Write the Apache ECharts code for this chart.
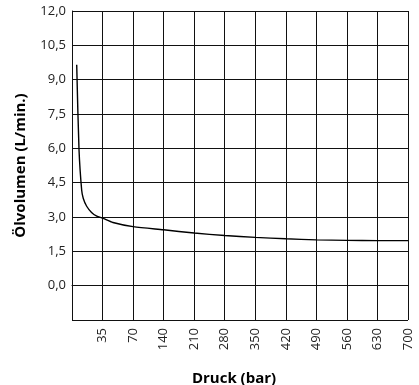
<!DOCTYPE html>
<html>
<head>
<meta charset="utf-8">
<script src="https://cdn.jsdelivr.net/npm/echarts@6/dist/echarts.min.js"></script>
<style>
  html, body { margin: 0; padding: 0; background: #fff; }
  #chart { width: 419px; height: 385px; }
</style>
</head>
<body>
<div id="chart"></div>
<script>
// Pressure tick labels (bar), one per grid column boundary
const pressureTicks = ['', '35', '70', '140', '210', '280', '350', '420', '490', '560', '630', '700'];
// Flow rate tick labels are formatted with a decimal comma
const flowTicks = [-1.5, 0, 1.5, 3, 4.5, 6, 7.5, 9, 10.5, 12];

// Curve points: position along the pressure axis (column index) and oil flow (L/min)
const curvePos = [0.154, 0.23, 0.317, 0.37, 0.48, 0.64, 0.81, 1.0, 1.34, 2, 3, 4, 5, 6, 7, 8, 9, 10, 11];
const curveFlow = [9.65, 5.93, 4.17, 3.81, 3.47, 3.20, 3.04, 2.95, 2.76, 2.58, 2.44, 2.30, 2.19, 2.11, 2.05, 2.00, 1.98, 1.97, 1.97];

const chart = echarts.init(document.getElementById('chart'));
const font = 'Open Sans';

chart.setOption({
  animation: false,
  grid: { left: 72, right: 11, top: 11, bottom: 65, outerBoundsMode: 'none', containLabel: false },
  xAxis: {
    type: 'value',
    min: 0,
    max: pressureTicks.length - 1,
    interval: 1,
    name: 'Druck (bar)',
    nameLocation: 'middle',
    nameGap: 51,
    nameTextStyle: { fontFamily: font, fontWeight: 'bold', fontSize: 15, color: '#000', padding: [0, 12, 0, 0] },
    axisLine: { show: true, lineStyle: { color: '#111', width: 1 } },
    axisTick: { show: false },
    axisLabel: {
      rotate: 90,
      margin: 8,
      fontFamily: font,
      fontSize: 13,
      color: '#222',
      formatter: v => pressureTicks[Math.round(v)] || ''
    },
    splitLine: { show: true, lineStyle: { color: '#111', width: 1 } }
  },
  yAxis: {
    type: 'value',
    min: flowTicks[0],
    max: flowTicks[flowTicks.length - 1],
    interval: 1.5,
    name: 'Ölvolumen (L/min.)',
    nameLocation: 'middle',
    nameGap: 44,
    nameTextStyle: { fontFamily: font, fontWeight: 'bold', fontSize: 15, color: '#000' },
    axisLine: { show: true, lineStyle: { color: '#111', width: 1 } },
    axisTick: { show: false },
    axisLabel: {
      margin: 6,
      fontFamily: font,
      fontSize: 13,
      color: '#222',
      formatter: v => (v < 0 ? '' : v.toFixed(1).replace('.', ','))
    },
    splitLine: { show: true, lineStyle: { color: '#111', width: 1 } }
  },
  series: [{
    type: 'line',
    data: curvePos.map((p, i) => [p, curveFlow[i]]),
    smooth: 0.25,
    showSymbol: false,
    lineStyle: { color: '#000', width: 1.4 }
  }]
});
</script>
</body>
</html>
